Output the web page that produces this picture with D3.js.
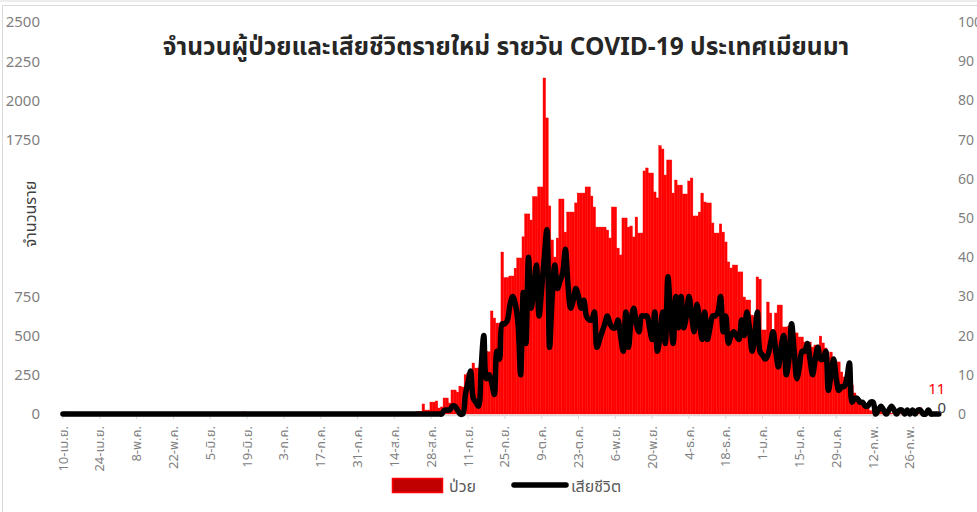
<!DOCTYPE html>
<html>
<head>
<meta charset="utf-8">
<script src="https://cdn.jsdelivr.net/npm/d3@7"></script>
<style>
  body { margin: 0; background: #fff; }
  text { font-family: Tahoma, "Noto Sans Thai", "Leelawadee UI", "Noto Sans", sans-serif; }
</style>
</head>
<body>
<svg id="chart" width="977" height="512"></svg>
<script>
// daily series, first day = 10 Apr 2020
var startDay = "2020-04-10";

var cases = [
  4, 13, 2, 0, 8, 11, 5, 3, 6, 7, 3, 4, 0, 2,
  2, 1, 0, 3, 1, 0, 0, 1, 5, 1, 0, 0, 0, 1,
  0, 2, 0, 0, 4, 0, 1, 0, 0, 0, 1, 0, 0, 0,
  0, 0, 3, 0, 4, 9, 12, 2, 1, 0, 3, 0, 0, 1,
  2, 0, 0, 0, 0, 1, 0, 0, 0, 0, 5, 2, 9, 14,
  5, 0, 1, 0, 0, 2, 0, 0, 0, 1, 0, 2, 0, 0,
  0, 1, 0, 0, 0, 1, 0, 0, 2, 0, 0, 1, 0, 0,
  1, 0, 0, 1, 0, 0, 1, 2, 0, 0, 0, 1, 0, 0,
  0, 1, 0, 0, 0, 2, 0, 1, 0, 0, 0, 1, 0, 4,
  5, 3, 6, 8, 2, 10, 7, 4, 12, 15, 15, 64, 25, 25,
  76, 76, 83, 38, 45, 102, 102, 70, 153, 153, 140, 178, 172, 250,
  260, 260, 325, 293, 293, 280, 300, 397, 397, 657, 612, 580, 580, 1033,
  870, 870, 880, 880, 930, 995, 995, 1130, 1276, 1276, 1237, 1386, 1386, 1448,
  1448, 2143, 1888, 1327, 1110, 1001, 1122, 1371, 1371, 1160, 1288, 1288, 1288, 1346,
  1409, 1409, 1409, 1448, 1448, 1390, 1320, 1192, 1192, 1192, 1192, 1173, 1122, 1320,
  1320, 1058, 1014, 1250, 1250, 1192, 1199, 1129, 1256, 1154, 1154, 1550, 1569, 1537,
  1537, 1416, 1378, 1711, 1690, 1524, 1620, 1620, 1409, 1492, 1460, 1460, 1403, 1403,
  1486, 1505, 1263, 1263, 1288, 1409, 1352, 1346, 1346, 1218, 1154, 1154, 1212, 1160,
  1097, 970, 931, 950, 950, 906, 906, 746, 727, 727, 631, 619, 874, 860,
  536, 536, 714, 644, 523, 644, 695, 695, 555, 555, 561, 485, 517, 517,
  491, 491, 459, 459, 459, 427, 440, 440, 497, 453, 421, 364, 395, 344,
  332, 332, 268, 236, 236, 217, 185, 134, 89, 89, 57, 38, 38, 21,
  20, 15, 12, 18, 8, 10, 14, 6, 9, 12, 15, 10, 8, 14,
  12, 9, 7, 11, 40, 14, 10, 6, 8, 5, 9, 11
];

var deaths = [
  0, 0, 0, 0, 0, 0, 0, 0, 0, 0, 0, 0, 0, 0,
  0, 0, 0, 0, 0, 0, 0, 0, 0, 0, 0, 0, 0, 0,
  0, 0, 0, 0, 0, 0, 0, 0, 0, 0, 0, 0, 0, 0,
  0, 0, 0, 0, 0, 0, 0, 0, 0, 0, 0, 0, 0, 0,
  0, 0, 0, 0, 0, 0, 0, 0, 0, 0, 0, 0, 0, 0,
  0, 0, 0, 0, 0, 0, 0, 0, 0, 0, 0, 0, 0, 0,
  0, 0, 0, 0, 0, 0, 0, 0, 0, 0, 0, 0, 0, 0,
  0, 0, 0, 0, 0, 0, 0, 0, 0, 0, 0, 0, 0, 0,
  0, 0, 0, 0, 0, 0, 0, 0, 0, 0, 0, 0, 0, 0,
  0, 0, 0, 0, 0, 0, 0, 0, 0, 0, 0, 0, 0, 0,
  0, 0, 0, 0, 0, 1, 1, 1, 2, 2, 1, 0, 0, 5,
  8, 11, 4, 3, 2, 12, 20, 9, 10, 8, 5, 16, 14, 23,
  23, 24, 28, 30, 28, 23, 10, 31, 18, 40, 27, 32, 38, 25,
  32, 40, 47, 17, 30, 38, 32, 34, 36, 42, 33, 27, 29, 32,
  30, 27, 29, 25, 24, 24, 26, 17, 19, 21, 23, 25, 23, 22,
  22, 24, 20, 16, 26, 17, 24, 27, 23, 21, 25, 25, 25, 22,
  19, 26, 16, 20, 26, 18, 35, 25, 18, 30, 22, 30, 22, 25,
  30, 25, 21, 28, 24, 19, 26, 19, 22, 25, 25, 26, 30, 21,
  25, 18, 20, 21, 20, 19, 24, 20, 26, 22, 16, 20, 26, 16,
  15, 14, 15, 18, 21, 16, 12, 17, 20, 10, 14, 23, 16, 9,
  12, 16, 16, 18, 14, 10, 14, 17, 14, 14, 16, 6, 10, 14,
  9, 6, 7, 7, 9, 13, 3, 4, 4, 3, 3, 2, 2, 3,
  3, 0, 1, 2, 1, 0, 1, 2, 1, 0, 1, 1, 0, 1,
  0, 1, 0, 1, 1, 0, 0, 1, 0, 0, 0, 0
];

var tickLabels = ["10-เม.ย.", "24-เม.ย.", "8-พ.ค.", "22-พ.ค.", "5-มิ.ย.", "19-มิ.ย.",
  "3-ก.ค.", "17-ก.ค.", "31-ก.ค.", "14-ส.ค.", "28-ส.ค.", "11-ก.ย.", "25-ก.ย.",
  "9-ต.ค.", "23-ต.ค.", "6-พ.ย.", "20-พ.ย.", "4-ธ.ค.", "18-ธ.ค.", "1-ม.ค.",
  "15-ม.ค.", "29-ม.ค.", "12-ก.พ.", "26-ก.พ."];
var tickEvery = 14;

var leftTicks = [0, 250, 500, 750, 1750, 2000, 2250, 2500];
var rightTicks = [0, 10, 20, 30, 40, 50, 60, 70, 80, 90, 100];

var title = "จำนวนผู้ป่วยและเสียชีวิตรายใหม่ รายวัน COVID-19 ประเทศเมียนมา";
var seriesNames = ["ป่วย", "เสียชีวิต"];
var yTitle = "จำนวนราย";

var svg = d3.select("#chart");
var days = d3.range(cases.length);

var x = d3.scaleBand().domain(days).range([61.7, 61.7 + 2.63 * days.length]).paddingInner(0.03);
var yL = d3.scaleLinear().domain([0, 2500]).range([414, 22]);
var yR = d3.scaleLinear().domain([0, 100]).range([414, 22]);
var cx = d => x(d) + x.bandwidth() / 2;

// frame
svg.append("rect").attr("x", 0).attr("y", 0).attr("width", 977).attr("height", 2).attr("fill", "#ececec");
svg.append("rect").attr("x", 2.5).attr("y", 5.5).attr("width", 990).attr("height", 520)
  .attr("fill", "none").attr("stroke", "#d9d9d9");

// bars
svg.append("g").selectAll("rect").data(days).join("rect")
  .attr("x", d => x(d))
  .attr("width", x.bandwidth())
  .attr("y", d => yL(cases[d]))
  .attr("height", d => yL(0) - yL(cases[d]))
  .attr("fill", "#ff0000")
  .attr("stroke", "#ff0000").attr("stroke-width", 0.4);

// x axis
var xAxis = svg.append("g").attr("transform", "translate(0,415)")
  .call(d3.axisBottom(x)
    .tickValues(days.filter(d => d % tickEvery == 0 && d / tickEvery < tickLabels.length))
    .tickFormat(d => tickLabels[d / tickEvery])
    .tickSize(4).tickSizeOuter(0));
xAxis.select(".domain").attr("stroke", "#d9d9d9").attr("stroke-width", 1.5);
xAxis.selectAll(".tick line").attr("stroke", "#d9d9d9");
xAxis.selectAll("text")
  .attr("transform", "rotate(-90)")
  .attr("text-anchor", "end")
  .attr("x", -11).attr("y", 0).attr("dy", "0.35em")
  .attr("fill", "#7f7f7f").style("font-size", "13px");

// left axis
var lAxis = svg.append("g").attr("transform", "translate(42,0)")
  .call(d3.axisLeft(yL).tickValues(leftTicks).tickFormat(d3.format("d")).tickSize(0).tickPadding(2));
lAxis.select(".domain").remove();
lAxis.selectAll("text").attr("fill", "#7f7f7f").style("font-size", "15px");

// right axis
var rAxis = svg.append("g").attr("transform", "translate(956,0)")
  .call(d3.axisRight(yR).tickValues(rightTicks).tickSize(0).tickPadding(2));
rAxis.select(".domain").remove();
rAxis.selectAll("text").attr("fill", "#7f7f7f").style("font-size", "14px");

// deaths line
var line = d3.line().x(d => cx(d)).y(d => yR(deaths[d])).curve(d3.curveCatmullRom);
svg.append("path").datum(days).attr("d", line)
  .attr("fill", "none").attr("stroke", "#000").attr("stroke-width", 5.5)
  .attr("stroke-linejoin", "round").attr("stroke-linecap", "round");

// last value labels
var last = days[days.length - 1];
svg.append("text").attr("x", cx(last) - 2).attr("y", yL(cases[last]) - 18)
  .attr("text-anchor", "middle").attr("fill", "#ff0000").style("font-size", "15px")
  .text(cases[last]);
svg.append("text").attr("x", cx(last) + 3).attr("y", yR(deaths[last]) - 1)
  .attr("text-anchor", "middle").attr("fill", "#404040").style("font-size", "15px")
  .text(deaths[last]);

// title
svg.append("text").attr("x", 506).attr("y", 55).attr("text-anchor", "middle")
  .attr("fill", "#262626").style("font-size", "24.5px").style("font-weight", "bold")
  .text(title);

// y axis title
svg.append("text").attr("transform", "translate(36,214) rotate(-90)")
  .attr("text-anchor", "middle").attr("fill", "#404040").style("font-size", "16px")
  .text(yTitle);

// legend
svg.append("rect").attr("x", 392.5).attr("y", 478.5).attr("width", 50).attr("height", 14)
  .attr("fill", "#c00000").attr("stroke", "#ff0000").attr("stroke-width", 1.5);
svg.append("text").attr("x", 449).attr("y", 492).attr("fill", "#595959")
  .style("font-size", "16px").text(seriesNames[0]);
svg.append("line").attr("x1", 514).attr("x2", 566).attr("y1", 485).attr("y2", 485)
  .attr("stroke", "#000").attr("stroke-width", 5.5).attr("stroke-linecap", "round");
svg.append("text").attr("x", 571).attr("y", 492).attr("fill", "#595959")
  .style("font-size", "16px").text(seriesNames[1]);
</script>
</body>
</html>
